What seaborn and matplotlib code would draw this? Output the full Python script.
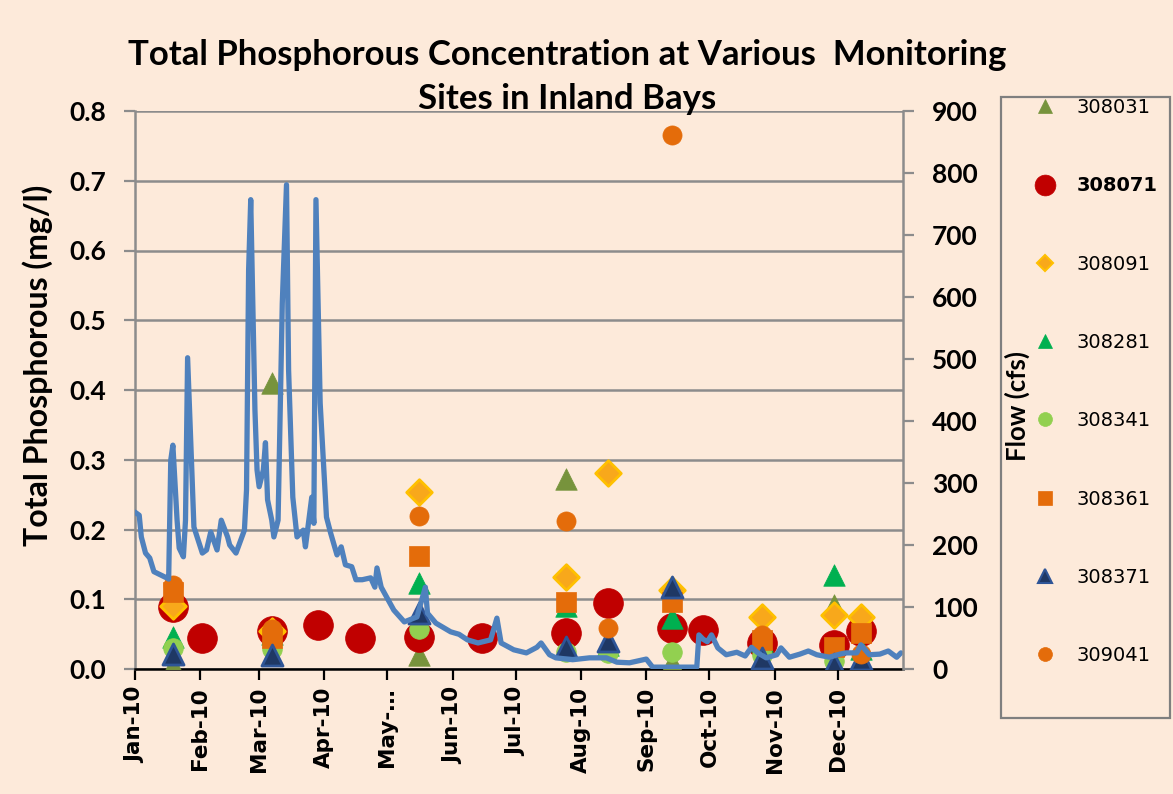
import matplotlib
matplotlib.use('Agg')
import matplotlib.pyplot as plt
from matplotlib.lines import Line2D
from matplotlib.patches import Rectangle
import pandas as pd
import seaborn as sns

BG = '#FDEADA'
GRID = '#8C8C8C'

# daily flow (cfs)
FLOW_DATES = [
    '2010-01-01', '2010-01-03', '2010-01-04', '2010-01-06', '2010-01-08', '2010-01-10',
    '2010-01-13', '2010-01-16', '2010-01-17', '2010-01-18', '2010-01-19', '2010-01-21',
    '2010-01-22', '2010-01-24', '2010-01-25', '2010-01-26', '2010-01-28', '2010-01-29',
    '2010-02-02', '2010-02-04', '2010-02-06', '2010-02-09', '2010-02-11', '2010-02-14',
    '2010-02-15', '2010-02-18', '2010-02-22', '2010-02-23', '2010-02-24', '2010-02-25',
    '2010-02-27', '2010-02-28', '2010-03-01', '2010-03-03', '2010-03-04', '2010-03-05',
    '2010-03-07', '2010-03-08', '2010-03-10', '2010-03-12', '2010-03-14', '2010-03-15',
    '2010-03-17', '2010-03-19', '2010-03-22', '2010-03-23', '2010-03-26', '2010-03-27',
    '2010-03-28', '2010-03-30', '2010-04-02', '2010-04-04', '2010-04-07', '2010-04-09',
    '2010-04-11', '2010-04-14', '2010-04-16', '2010-04-19', '2010-04-23', '2010-04-25',
    '2010-04-26', '2010-04-28', '2010-05-04', '2010-05-09', '2010-05-15', '2010-05-19',
    '2010-05-20', '2010-05-24', '2010-05-31', '2010-06-04', '2010-06-08', '2010-06-13',
    '2010-06-19', '2010-06-22', '2010-06-24', '2010-06-30', '2010-07-06', '2010-07-11',
    '2010-07-13', '2010-07-17', '2010-07-20', '2010-07-28', '2010-08-05', '2010-08-13',
    '2010-08-18', '2010-08-24', '2010-09-01', '2010-09-04', '2010-09-13', '2010-09-25',
    '2010-09-26', '2010-09-28', '2010-09-30', '2010-10-02', '2010-10-05', '2010-10-09',
    '2010-10-14', '2010-10-18', '2010-10-21', '2010-10-24', '2010-10-28', '2010-11-02',
    '2010-11-04', '2010-11-08', '2010-11-13', '2010-11-17', '2010-11-21', '2010-11-27',
    '2010-12-02', '2010-12-05', '2010-12-10', '2010-12-12', '2010-12-16', '2010-12-21',
    '2010-12-25', '2010-12-29', '2010-12-31',
]
FLOW_CFS = [
    253, 248, 213, 187, 179, 157,
    152, 147, 145, 337, 361, 240,
    195, 181, 240, 502, 321, 229,
    187, 192, 221, 192, 240, 213,
    200, 187, 224, 289, 644, 757,
    418, 321, 294, 321, 365, 273,
    240, 213, 240, 590, 781, 482,
    277, 213, 224, 197, 277, 235,
    757, 429, 245, 219, 184, 197,
    168, 165, 144, 144, 147, 132,
    163, 132, 95, 76, 84, 132,
    90, 74, 60, 56, 47, 42,
    47, 82, 42, 31, 26, 35,
    42, 23, 18, 15, 18, 18,
    11, 10, 16, 3, 3, 3,
    55, 48, 44, 55, 34, 23,
    27, 21, 35, 26, 18, 23,
    34, 19, 24, 29, 23, 19,
    24, 26, 26, 39, 23, 24,
    29, 19, 26,
]

# total phosphorous (mg/l) per monitoring site
DATES_308031 = ['2010-01-19', '2010-03-07', '2010-05-16', '2010-07-25', '2010-09-13', '2010-11-29']
TP_308031 = [0.006, 0.41, 0.02, 0.272, 0.01, 0.092]

DATES_308071 = ['2010-01-19', '2010-02-02', '2010-03-07', '2010-03-29', '2010-04-18', '2010-05-16',
                '2010-06-15', '2010-07-25', '2010-08-14', '2010-09-13', '2010-09-28', '2010-10-26',
                '2010-11-29', '2010-12-12']
TP_308071 = [0.089, 0.044, 0.055, 0.063, 0.044, 0.046,
             0.044, 0.052, 0.094, 0.059, 0.056, 0.037,
             0.035, 0.055]

DATES_308091 = ['2010-01-19', '2010-03-07', '2010-05-16', '2010-07-25', '2010-08-14', '2010-09-13',
                '2010-10-26', '2010-11-29', '2010-12-12']
TP_308091 = [0.09, 0.055, 0.254, 0.132, 0.281, 0.113, 0.075, 0.077, 0.075]

DATES_308281 = ['2010-01-19', '2010-03-07', '2010-05-16', '2010-07-25', '2010-08-14', '2010-09-13',
                '2010-10-26', '2010-11-29', '2010-12-12']
TP_308281 = [0.046, 0.05, 0.123, 0.09, 0.035, 0.073, 0.04, 0.135, 0.028]

DATES_308341 = ['2010-01-19', '2010-03-07', '2010-05-16', '2010-07-25', '2010-08-14', '2010-09-13',
                '2010-10-26', '2010-11-29']
TP_308341 = [0.03, 0.028, 0.058, 0.025, 0.023, 0.024, 0.02, 0.012]

DATES_308361 = ['2010-01-19', '2010-03-07', '2010-05-16', '2010-07-25', '2010-09-13', '2010-10-26',
                '2010-11-29', '2010-12-12']
TP_308361 = [0.11, 0.045, 0.162, 0.096, 0.096, 0.042, 0.032, 0.052]

DATES_308371 = ['2010-01-19', '2010-03-07', '2010-05-16', '2010-07-25', '2010-08-14', '2010-09-13',
                '2010-10-26', '2010-11-29', '2010-12-12']
TP_308371 = [0.022, 0.02, 0.08, 0.032, 0.04, 0.118, 0.016, 0.007, 0.014]

DATES_309041 = ['2010-01-19', '2010-03-07', '2010-05-16', '2010-07-25', '2010-08-14', '2010-09-13',
                '2010-10-26', '2010-12-12']
TP_309041 = [0.12, 0.058, 0.219, 0.212, 0.059, 0.766, 0.049, 0.022]

SITES = ['308031', '308071', '308091', '308281', '308341', '308361', '308371', '309041']
SITE_DATES = [DATES_308031, DATES_308071, DATES_308091, DATES_308281,
              DATES_308341, DATES_308361, DATES_308371, DATES_309041]
SITE_TP = [TP_308031, TP_308071, TP_308091, TP_308281,
           TP_308341, TP_308361, TP_308371, TP_309041]

MONTH_TICKS = pd.date_range('2010-01-01', '2010-12-01', freq='MS')
MONTH_LABELS = ['Jan-10', 'Feb-10', 'Mar-10', 'Apr-10', 'May-\u2026', 'Jun-10',
                'Jul-10', 'Aug-10', 'Sep-10', 'Oct-10', 'Nov-10', 'Dec-10']
TP_TICKS = [0.0, 0.1, 0.2, 0.3, 0.4, 0.5, 0.6, 0.7, 0.8]
FLOW_TICKS = [0, 100, 200, 300, 400, 500, 600, 700, 800, 900]

# marker, face, edge, size (scatter s), legend markersize
STYLE = {
    '308031': ('^', '#77933C', '#77933C', 240, 10),
    '308071': ('o', '#C00000', '#C00000', 460, 15),
    '308091': ('D', '#F8A81B', '#FFC000', 170, 8),
    '308281': ('^', '#00B050', '#00B050', 240, 10),
    '308341': ('o', '#92D050', '#92D050', 200, 10),
    '308361': ('s', '#E46C0A', '#E46C0A', 190, 10),
    '308371': ('^', '#1F3864', '#2E5597', 230, 10),
    '309041': ('o', '#E46C0A', '#E46C0A', 190, 10),
}

sns.set_theme(style='white')
plt.rcParams['font.family'] = ['DejaVu Sans']
plt.rcParams['axes.facecolor'] = BG
plt.rcParams['figure.facecolor'] = BG
plt.rcParams['text.color'] = 'black'
plt.rcParams['axes.labelcolor'] = 'black'

rows = []
for site, dates, vals in zip(SITES, SITE_DATES, SITE_TP):
    for d, v in zip(dates, vals):
        rows.append({'site': site, 'date': pd.Timestamp(d), 'tp': v})
tp_df = pd.DataFrame(rows)
flow_df = pd.DataFrame({'date': pd.to_datetime(FLOW_DATES), 'flow': FLOW_CFS})

fig = plt.figure(figsize=(11.73, 7.94), dpi=100)
ax = fig.add_axes([135 / 1173, 1 - 669 / 794, 768 / 1173, 558 / 794])
ax2 = ax.twinx()

for site in SITES:
    m, fc, ec, s, _ = STYLE[site]
    sns.scatterplot(data=tp_df[tp_df['site'] == site], x='date', y='tp', ax=ax,
                    marker=m, color=fc, edgecolor=ec, s=s,
                    linewidth=2 if ec != fc else 0.5, legend=False, zorder=3)

sns.lineplot(data=flow_df, x='date', y='flow', ax=ax2, color='#4F81BD',
             linewidth=3.8, solid_joinstyle='round', solid_capstyle='round')

ax.set_xlim(pd.Timestamp('2010-01-01'), pd.Timestamp('2011-01-01'))
ax.set_ylim(0, 0.8)
ax2.set_ylim(0, 900)

ax.yaxis.grid(True, color=GRID, linewidth=1.8)
ax.xaxis.grid(False)
ax.set_axisbelow(True)

ax.set_xticks(MONTH_TICKS, labels=MONTH_LABELS, rotation=90,
              fontsize=15.5, fontweight='bold')
ax.set_yticks(TP_TICKS, labels=[f'{t:.1f}' for t in TP_TICKS],
              fontsize=19, fontweight='bold', family='Lato')
ax2.set_yticks(FLOW_TICKS, labels=[str(t) for t in FLOW_TICKS],
               fontsize=19, fontweight='bold', family='Lato')
ax.tick_params(axis='x', direction='out', length=8, width=1.6, color='black',
               labelcolor='black', pad=5, bottom=True)
ax.tick_params(axis='y', direction='out', length=8, width=1.6, color=GRID,
               labelcolor='black', pad=13, left=True)
ax2.tick_params(axis='y', direction='out', length=8, width=1.6, color=GRID,
                labelcolor='black', pad=13, right=True)

for sp in ['top', 'right']:
    ax.spines[sp].set_visible(False)
ax.spines['left'].set_color(GRID)
ax.spines['left'].set_linewidth(1.8)
ax.spines['bottom'].set_color('black')
ax.spines['bottom'].set_linewidth(1.8)
for sp in ['top', 'left', 'bottom']:
    ax2.spines[sp].set_visible(False)
ax2.spines['right'].set_color(GRID)
ax2.spines['right'].set_linewidth(1.8)

ax.set_xlabel('')
ax.set_ylabel('Total Phosphorous (mg/l)', fontsize=23, fontweight='bold', family='Lato')
ax.yaxis.set_label_coords(-0.107, 0.545)
ax2.set_ylabel('Flow (cfs)', fontsize=18.5, fontweight='bold', family='Lato', rotation=90)
ax2.yaxis.set_label_coords(1.132, 0.471)

fig.text(0.4838, 1 - 55 / 794, 'Total Phosphorous Concentration at Various  Monitoring',
         ha='center', va='center', fontsize=25, fontweight='bold', family='Lato')
fig.text(0.4838, 1 - 99 / 794, 'Sites in Inland Bays',
         ha='center', va='center', fontsize=25, fontweight='bold', family='Lato')

# legend frame drawn separately so the box matches the original
fig.patches.append(Rectangle((1001 / 1173, 1 - 718 / 794), 169 / 1173, 621 / 794,
                             transform=fig.transFigure, facecolor='none',
                             edgecolor='#7F7F7F', linewidth=1.6, zorder=1))
handles = []
for site in SITES:
    m, fc, ec, _, ms = STYLE[site]
    handles.append(Line2D([], [], linestyle='', marker=m, markerfacecolor=fc,
                          markeredgecolor=ec, markersize=ms,
                          markeredgewidth=1.5 if ec != fc else 0.5))
leg = fig.legend(handles, SITES, loc='upper left',
                 bbox_to_anchor=(1035 / 1173, 1 - 98 / 794), frameon=False,
                 fontsize=14, labelspacing=3.05, handlelength=1.0,
                 handletextpad=1.15, borderpad=0, borderaxespad=0)
for t in leg.get_texts():
    t.set_color('black')
leg.get_texts()[1].set_fontweight('bold')

fig.savefig('out.png', dpi=100, facecolor=BG)
